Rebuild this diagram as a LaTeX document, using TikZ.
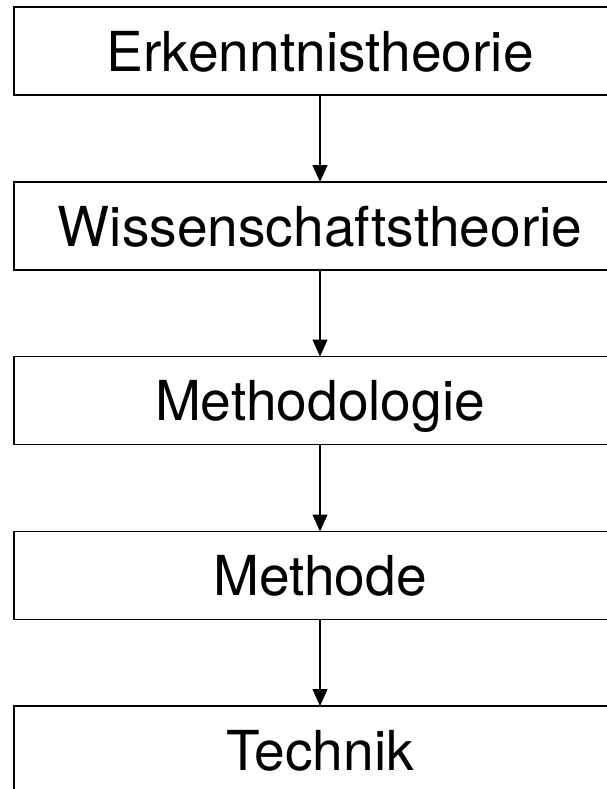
\documentclass[tikz,border=0pt]{standalone}
\usepackage{fontspec}
\setmainfont{TeX Gyre Heros}
\usetikzlibrary{arrows.meta}
\begin{document}
\begin{tikzpicture}[x=1bp,y=-1bp,
  stagebox/.style={draw=black, line width=1.3bp, minimum width=612bp, minimum height=88bp,
    inner sep=0pt, outer sep=0pt, text height=40.5bp, text depth=0pt,
    font=\fontsize{55.3pt}{60pt}\selectfont},
  flowarrow/.style={line width=1.1bp, -{Triangle[width=15bp,length=17bp]}}]
\useasboundingbox (0,0) rectangle (607,789);
\clip (0,0) rectangle (607,789);
\node[stagebox] (b1) at (320,51) {Erkenntnistheorie};
\node[stagebox] (b2) at (320,226) {Wissenschaftstheorie};
\node[stagebox] (b3) at (320,400.5) {Methodologie};
\node[stagebox] (b4) at (320,575.5) {Methode};
\node[stagebox] (b5) at (320,750) {Technik};
\draw[flowarrow] (b1.south) -- (b2.north);
\draw[flowarrow] (b2.south) -- (b3.north);
\draw[flowarrow] (b3.south) -- (b4.north);
\draw[flowarrow] (b4.south) -- (b5.north);
\end{tikzpicture}
\end{document}
